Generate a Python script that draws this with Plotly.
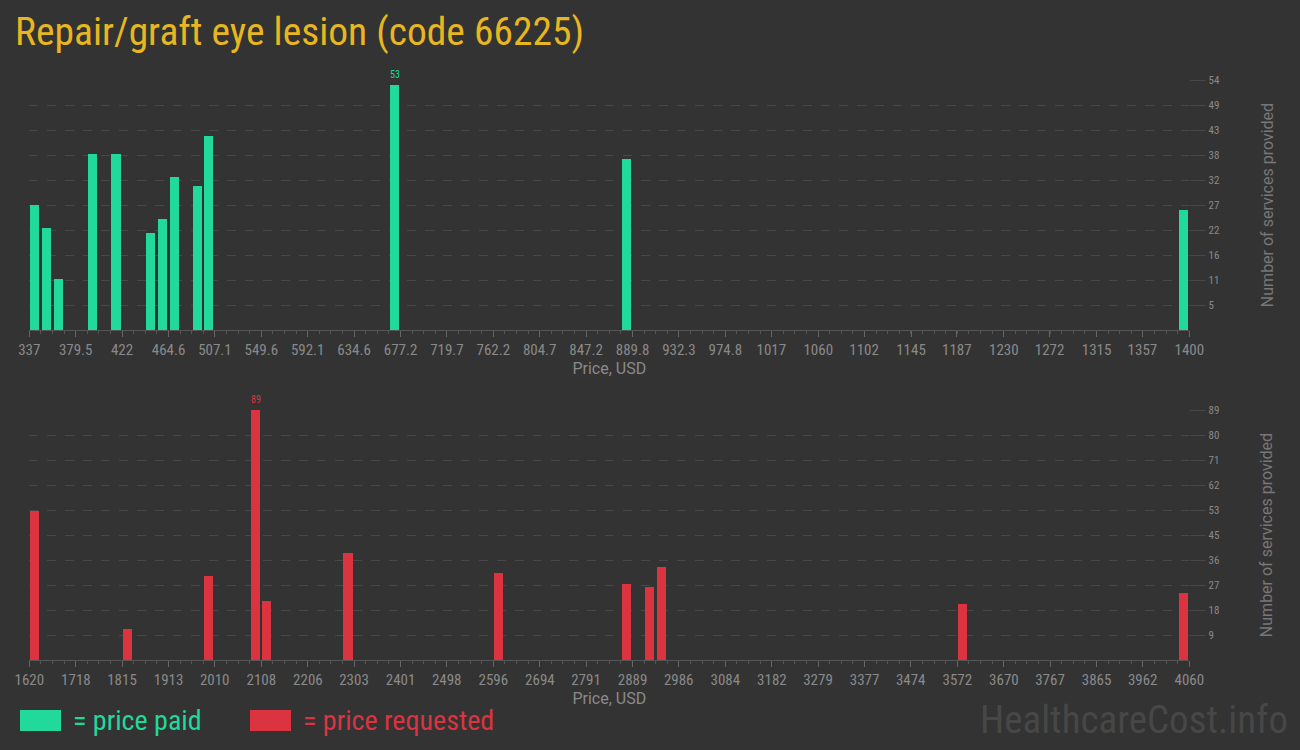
import plotly.graph_objects as go

# ---- data ----
paid_price = [342.3, 352.9, 363.6, 395.5, 416.7, 448.6, 459.3, 469.9, 491.2, 501.8, 671.9, 884.5, 1394.7]
paid_count = [27, 22, 11, 38, 38, 21, 24, 33, 31, 42, 53, 37, 26]

req_price = [1632.2, 1827.4, 1998.2, 2095.8, 2120.2, 2291.0, 2608.2, 2876.6, 2925.4, 2949.8, 3584.2, 4047.8]
req_count = [53, 11, 30, 89, 21, 38, 31, 27, 26, 33, 20, 24]

top_xticks = [337, 379.5, 422, 464.6, 507.1, 549.6, 592.1, 634.6, 677.2, 719.7, 762.2, 804.7, 847.2,
              889.8, 932.3, 974.8, 1017, 1060, 1102, 1145, 1187, 1230, 1272, 1315, 1357, 1400]
top_xtext = ["337", "379.5", "422", "464.6", "507.1", "549.6", "592.1", "634.6", "677.2", "719.7", "762.2",
             "804.7", "847.2", "889.8", "932.3", "974.8", "1017", "1060", "1102", "1145", "1187", "1230",
             "1272", "1315", "1357", "1400"]
bot_xticks = [1620, 1718, 1815, 1913, 2010, 2108, 2206, 2303, 2401, 2498, 2596, 2694, 2791, 2889, 2986,
              3084, 3182, 3279, 3377, 3474, 3572, 3670, 3767, 3865, 3962, 4060]
top_yticks = [5.4, 10.8, 16.2, 21.6, 27, 32.4, 37.8, 43.2, 48.6, 54]
top_ytext = ["5", "11", "16", "22", "27", "32", "38", "43", "49", "54"]
bot_yticks = [8.9, 17.8, 26.7, 35.6, 44.5, 53.4, 62.3, 71.2, 80.1, 89]
bot_ytext = ["9", "18", "27", "36", "45", "53", "62", "71", "80", "89"]

top_range = [337, 1400]
bot_range = [1620, 4060]
top_bin = 10.63
bot_bin = 24.4

GREEN = "#21d99b"
RED = "#dc3341"
BG = "#333333"
GOLD = "#e8b620"
GRID = "#484848"
TICKC = "#8a8a8a"
COND = "Roboto Condensed, Liberation Sans Narrow, Arial Narrow, DejaVu Sans Condensed, Roboto, sans-serif"
W, H = 1300, 750


def px(x):
    return x / W


def py(y):
    return 1 - y / H


fig = go.Figure()
fig.add_trace(go.Bar(x=paid_price, y=paid_count, width=top_bin * 0.78, marker=dict(color=GREEN, line_width=0),
                     xaxis="x", yaxis="y", showlegend=False, hoverinfo="x+y"))
fig.add_trace(go.Bar(x=req_price, y=req_count, width=bot_bin * 0.78, marker=dict(color=RED, line_width=0),
                     xaxis="x2", yaxis="y2", showlegend=False, hoverinfo="x+y"))

xcommon = dict(automargin=False, showgrid=False, zeroline=False, showline=True, linecolor="#555555",
               linewidth=1, ticks="outside", ticklen=6, tickcolor="#666666",
               tickfont=dict(family=COND, size=15, color=TICKC),
               title=dict(text="Price, USD", font=dict(family="Roboto, sans-serif", size=16, color="#8a8a8a"),
                          standoff=2))
ycommon = dict(automargin=False, side="right", showgrid=True, gridcolor=GRID, griddash="dash", gridwidth=1,
               zeroline=False, showline=False, ticks="outside", ticklen=16, tickcolor=GRID,
               tickfont=dict(family=COND, size=11, color=TICKC),
               title=dict(text="Number of services provided",
                          font=dict(family="Roboto, sans-serif", size=16, color="#777777"), standoff=42))

fig.update_layout(
    width=W, height=H,
    paper_bgcolor=BG, plot_bgcolor=BG,
    margin=dict(l=0, r=0, t=0, b=0, autoexpand=False),
    bargap=0,
    xaxis=dict(xcommon, domain=[px(29.3), px(1189.3)], range=top_range, anchor="y",
               tickvals=top_xticks, ticktext=top_xtext,
               minor=dict(ticks="outside", ticklen=3, tickcolor="#555555",
                          tick0=top_range[0], dtick=top_bin)),
    yaxis=dict(ycommon, domain=[py(330), py(80)], range=[0, 54], anchor="x",
               tickvals=top_yticks, ticktext=top_ytext),
    xaxis2=dict(xcommon, domain=[px(29.3), px(1189.3)], range=bot_range, anchor="y2",
                tickvals=bot_xticks, ticktext=[str(v) for v in bot_xticks],
                minor=dict(ticks="outside", ticklen=3, tickcolor="#555555",
                           tick0=bot_range[0], dtick=bot_bin)),
    yaxis2=dict(ycommon, domain=[py(660), py(410)], range=[0, 89], anchor="x2",
                tickvals=bot_yticks, ticktext=bot_ytext),
)

# max-value labels
i_top = paid_count.index(max(paid_count))
fig.add_annotation(x=paid_price[i_top], y=paid_count[i_top], xref="x", yref="y", text=str(paid_count[i_top]),
                   showarrow=False, yanchor="bottom", yshift=3, font=dict(family=COND, size=10, color=GREEN))
i_bot = req_count.index(max(req_count))
fig.add_annotation(x=req_price[i_bot], y=req_count[i_bot], xref="x2", yref="y2", text=str(req_count[i_bot]),
                   showarrow=False, yanchor="bottom", yshift=3, font=dict(family=COND, size=10, color=RED))

# title
fig.add_annotation(x=px(13), y=py(32), xref="paper", yref="paper", xanchor="left", yanchor="middle",
                   text="Repair/graft eye lesion (code 66225)", showarrow=False,
                   font=dict(family=COND, size=39.5, color=GOLD))

# legend
fig.add_shape(type="rect", xref="paper", yref="paper", x0=px(20), x1=px(61), y0=py(731), y1=py(710),
              fillcolor=GREEN, line_width=0)
fig.add_annotation(x=px(71), y=py(720), xref="paper", yref="paper", xanchor="left", yanchor="middle",
                   text="= price paid", showarrow=False, font=dict(family=COND, size=28, color=GREEN))
fig.add_shape(type="rect", xref="paper", yref="paper", x0=px(250), x1=px(291), y0=py(731), y1=py(710),
              fillcolor=RED, line_width=0)
fig.add_annotation(x=px(301), y=py(720), xref="paper", yref="paper", xanchor="left", yanchor="middle",
                   text="= price requested", showarrow=False, font=dict(family=COND, size=28, color=RED))

# watermark
fig.add_annotation(x=px(1290), y=py(720), xref="paper", yref="paper", xanchor="right", yanchor="middle",
                   text="HealthcareCost.info", showarrow=False,
                   font=dict(family=COND, size=39, color="#474747"))

fig.write_html("out.html", config={"displayModeBar": False},
               post_script="document.body.style.margin='0';document.body.style.background='#333333';")
